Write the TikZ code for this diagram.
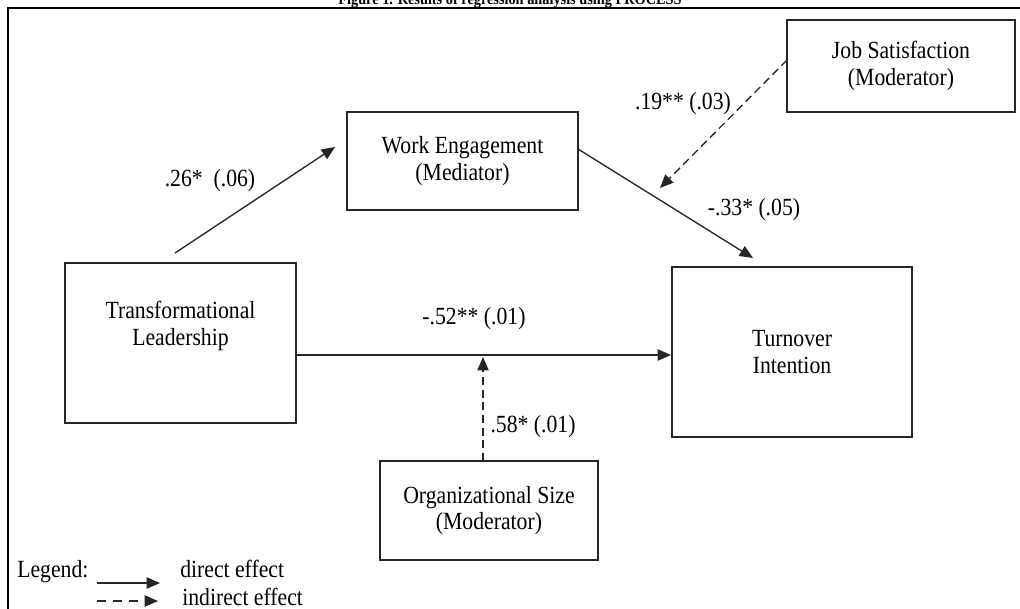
\documentclass[tikz,border=0pt]{standalone}
\usepackage{fontspec}
\setmainfont{Liberation Serif}[FakeStretch=0.88]
\usetikzlibrary{arrows.meta}
\begin{document}
\begin{tikzpicture}[x=0.75pt,y=-0.75pt,
  box/.style={draw=black!85, line width=1pt, inner sep=0pt},
  txt/.style={font=\fontsize{18.5}{20}\selectfont, align=center, inner sep=0pt},
  arr/.style={draw=black!85, line width=1pt, -{Triangle[length=10pt,width=8.5pt]}},
  darr/.style={arr, dash pattern=on 6pt off 3.5pt},
  ldarr/.style={arr, dash pattern=on 7pt off 5pt}]
\useasboundingbox (0,0) rectangle (1020,608);
\clip (0,0) rectangle (1020,608);
\fill[white] (0,0) rectangle (1020,608);
% caption (cut by the page edge)
\node[font=\bfseries\fontsize{12.2}{14}\selectfont, anchor=base, inner sep=0pt] (cap) at (510,4.5) {Figure 1. Results of regression analysis using PROCESS};
% frame
\draw[line width=2.2pt] (8,660) -- (8,8) -- (1060,8);
% boxes
\node[box, minimum width=173.25pt, minimum height=120pt] (tl) at (180.5,343) {};
\node[box, minimum width=173.25pt, minimum height=73.5pt] (we) at (462.5,161) {};
\node[box, minimum width=171pt, minimum height=69pt] (js) at (901,66) {};
\node[box, minimum width=180pt, minimum height=127.5pt] (ti) at (792,352) {};
\node[box, minimum width=163.5pt, minimum height=74.25pt] (os) at (489,510.5) {};
% box texts
\node[txt] (tlt) at (180.5,326) {Transformational\\Leadership};
\node[txt] (wet) at (we.center) {Work Engagement\\(Mediator)};
\node[txt] (jst) at (js.center) {Job Satisfaction\\(Moderator)};
\node[txt] (tit) at (ti.center) {Turnover\\Intention};
\node[txt] (ost) at (os.center) {Organizational Size\\(Moderator)};
% connector end points
\coordinate (a1s) at (175,253);
\coordinate (a1e) at (335,147);
\coordinate (a2s) at (578,149);
\coordinate (a2e) at (753,258);
\coordinate (a3s) at (296,355);
\coordinate (a3e) at (671,355);
\coordinate (a4s) at (787,60);
\coordinate (a4e) at (660,188);
\coordinate (a5s) at (483,461);
\coordinate (a5e) at (483,357);
\draw[arr] (a1s) -- (a1e);
\draw[arr] (a2s) -- (a2e);
\draw[arr] (a3s) -- (a3e);
\draw[darr] (a4s) -- (a4e);
\draw[darr] (a5s) -- (a5e);
% coefficients
\node[txt] (l1) at (210,181) {.26*\ \ (.06)};
\node[txt] (l2) at (683,104) {.19**\ (.03)};
\node[txt] (l3) at (754,210) {-.33*\ (.05)};
\node[txt] (l4) at (474,319) {-.52**\ (.01)};
\node[txt] (l5) at (533,427) {.58* (.01)};
% legend
\node[txt, anchor=base west] (leg) at (17,577) {Legend:};
\node[txt, anchor=base west] (ld) at (180,577) {direct effect};
\node[txt, anchor=base west] (li) at (182,605) {indirect effect};
\coordinate (g1s) at (97,583);
\coordinate (g1e) at (160,583);
\coordinate (g2s) at (97,601);
\coordinate (g2e) at (158,601);
\draw[arr] (g1s) -- (g1e);
\draw[ldarr] (g2s) -- (g2e);
\end{tikzpicture}
\end{document}
